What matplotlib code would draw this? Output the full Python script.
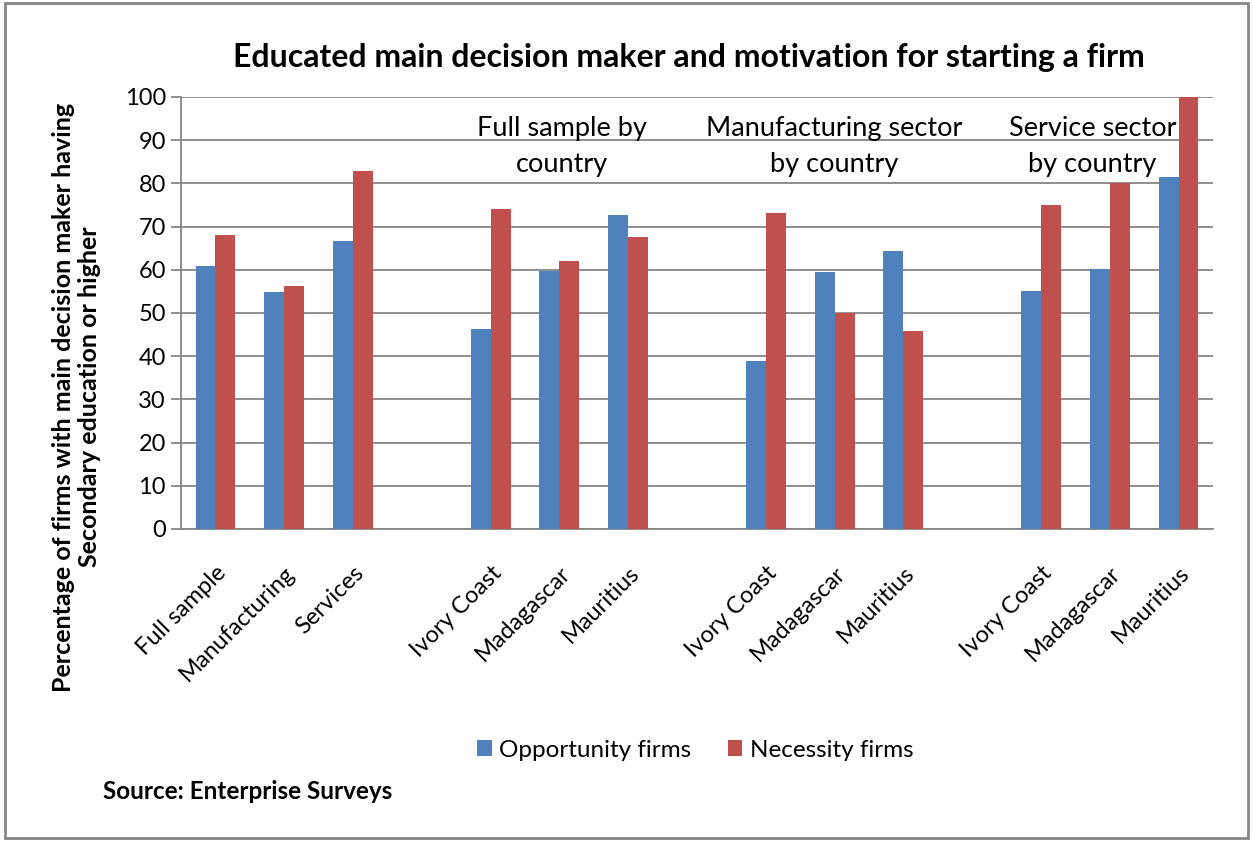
import matplotlib.pyplot as plt
import numpy as np
from matplotlib.patches import Rectangle

plt.rcParams['font.family'] = ['Lato', 'DejaVu Sans']

# 15 slots, blank slot between the groups
labels = ['Full sample', 'Manufacturing', 'Services', '',
          'Ivory Coast', 'Madagascar', 'Mauritius', '',
          'Ivory Coast', 'Madagascar', 'Mauritius', '',
          'Ivory Coast', 'Madagascar', 'Mauritius']
opportunity = [60.9, 54.9, 66.7, np.nan,
               46.2, 59.7, 72.7, np.nan,
               38.9, 59.4, 64.4, np.nan,
               55.2, 60.2, 81.4]
necessity = [68.1, 56.3, 82.8, np.nan,
             74.1, 62.0, 67.5, np.nan,
             73.1, 50.0, 45.8, np.nan,
             75.0, 80.0, 100.0]
group_notes = ['Full sample by\ncountry', 'Manufacturing sector\nby country',
               'Service sector\nby country']
note_x = [5.04, 8.99, 12.75]

blue = '#4F81BD'
red = '#C0504D'
grey = '#868686'

fig = plt.figure(figsize=(12.53, 8.41), dpi=100)
ax = fig.add_axes([0.1445, 0.371, 0.8235, 0.5137])

x = np.arange(len(labels))
w = 0.29
ax.bar(x - w / 2, opportunity, w, color=blue, label='Opportunity firms', zorder=3)
ax.bar(x + w / 2, necessity, w, color=red, label='Necessity firms', zorder=3)

ax.set_xlim(-0.5, len(labels) - 0.5)
ax.set_ylim(0, 100)
ax.set_yticks(range(0, 101, 10))
ax.yaxis.grid(True, color=grey, linewidth=1.3, zorder=0)
ax.tick_params(axis='y', labelsize=17, length=7, color=grey, width=1.3, pad=4)

ticks = [i for i, l in enumerate(labels) if l]
ax.set_xticks(ticks)
ax.set_xticklabels([labels[i] for i in ticks], rotation=45, ha='right',
                   rotation_mode='anchor', fontsize=17)
ax.tick_params(axis='x', length=0, pad=24)

for side in ['top', 'right']:
    ax.spines[side].set_visible(False)
for side in ['left', 'bottom']:
    ax.spines[side].set_color(grey)
    ax.spines[side].set_linewidth(1.3)

for note, nx in zip(group_notes, note_x):
    ax.text(nx, 95.5, note, ha='center', va='top', fontsize=19.5, linespacing=1.55)

fig.text(0.55, 0.932, 'Educated main decision maker and motivation for starting a firm',
         ha='center', va='center', fontsize=23, fontweight='bold')
fig.text(0.061, 0.528, 'Percentage of firms with main decision maker having\nSecondary education or higher',
         ha='center', va='center', rotation=90, fontsize=18, fontweight='bold',
         linespacing=1.2)

fig.legend(loc='center', bbox_to_anchor=(0.555, 0.108), ncol=2, frameon=False,
           fontsize=17.5, handlelength=0.6, handleheight=0.6, handletextpad=0.3,
           columnspacing=1.5)

fig.text(0.082, 0.059, 'Source: Enterprise Surveys', ha='left', va='center',
         fontsize=17.5, fontweight='bold')

fig.patches.append(Rectangle((0.004, 0.003), 0.992, 0.994, transform=fig.transFigure,
                             fill=False, edgecolor=grey, linewidth=2))

fig.savefig('out.png', dpi=100)
